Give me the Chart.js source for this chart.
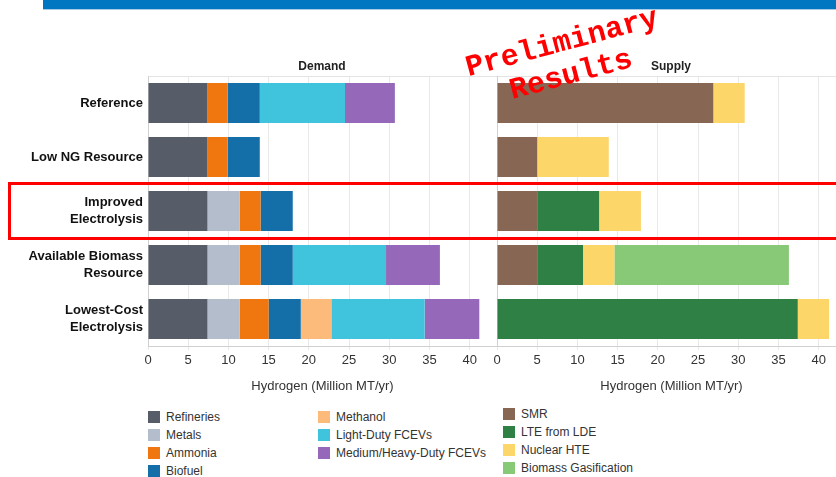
<!DOCTYPE html>
<html>
<head>
<meta charset="utf-8">
<title>Hydrogen Demand and Supply</title>
<script src="https://cdn.jsdelivr.net/npm/chart.js@4"></script>
<style>
    html, body {
        margin: 0;
        padding: 0;
        width: 836px;
        height: 477px;
        overflow: hidden;
        background: #fff;
        font-family: "Liberation Sans", Arial, sans-serif;
    }
    .top-band {
        position: absolute;
        left: 43px;
        top: 0;
        width: 793px;
        height: 9px;
        background: #0077c0;
        border-bottom: 1px solid #a9cbe6;
    }
    .panel {
        position: absolute;
        top: 0;
        height: 398px;
    }
    .panel-title {
        position: absolute;
        top: 59px;
        font-size: 12px;
        font-weight: bold;
        color: #222;
        transform: translateX(-50%);
        white-space: nowrap;
    }
    .highlight {
        position: absolute;
        left: 8px;
        top: 182px;
        width: 840px;
        height: 52px;
        border: 3px solid #ff0000;
        z-index: 5;
    }
    .stamp {
        position: absolute;
        font-family: "Liberation Mono", "Courier New", monospace;
        font-weight: bold;
        font-size: 30px;
        color: #ff0000;
        white-space: nowrap;
        transform: translate(-50%, -50%) rotate(-15deg);
        z-index: 6;
    }
    .legend {
        position: absolute;
        font-size: 12px;
        color: #333;
    }
    .legend-item {
        position: absolute;
        white-space: nowrap;
        height: 18px;
        line-height: 18px;
    }
    .legend-item span.box {
        position: absolute;
        left: 0;
        top: 3px;
        width: 12px;
        height: 12px;
    }
    .legend-item span.text {
        position: absolute;
        left: 18px;
        top: 0;
    }
</style>
</head>
<body>
<div class="top-band"></div>

<div class="panel" style="left:0; width:497px;"><canvas id="demandChart"></canvas></div>
<div class="panel" style="left:489px; width:357px;"><canvas id="supplyChart"></canvas></div>

<div class="panel-title" style="left:322px;">Demand</div>
<div class="panel-title" style="left:671px;">Supply</div>

<div class="highlight"></div>

<div class="stamp" style="left:562px; top:43px;">Preliminary</div>
<div class="stamp" style="left:571px; top:75px;">Results</div>

<div id="legendDemand" class="legend"></div>
<div id="legendSupply" class="legend"></div>

<script>
(function() {
    'use strict';

    // ===================================
    // Data
    // ===================================

    const scenarios = [
        'Reference',
        'Low NG Resource',
        ['Improved', 'Electrolysis'],
        ['Available Biomass', 'Resource'],
        ['Lowest-Cost', 'Electrolysis']
    ];

    // Demand by end use (Million MT/yr)
    const refineries = [7.4, 7.4, 7.4, 7.4, 7.4];
    const metals     = [0, 0, 4.0, 4.0, 4.0];
    const ammonia    = [2.5, 2.5, 2.6, 2.6, 3.6];
    const biofuel    = [4.0, 4.0, 4.0, 4.0, 4.0];
    const methanol   = [0, 0, 0, 0, 3.8];
    const lightDuty  = [10.6, 0, 0, 11.6, 11.6];
    const heavyDuty  = [6.2, 0, 0, 6.7, 6.8];

    // Supply by production route (Million MT/yr)
    const smr        = [26.9, 5.0, 5.0, 5.0, 0];
    const lteFromLde = [0, 0, 7.7, 5.7, 37.4];
    const nuclearHte = [3.9, 8.9, 5.2, 3.9, 3.9];
    const biomassGas = [0, 0, 0, 21.7, 0];

    const xTicks = [0, 5, 10, 15, 20, 25, 30, 35, 40];
    const xMax = 43.4;
    const axisTitle = 'Hydrogen (Million MT/yr)';

    const demandSeries = [
        { label: 'Refineries', data: refineries, color: '#565d68' },
        { label: 'Metals', data: metals, color: '#b4bdcb' },
        { label: 'Ammonia', data: ammonia, color: '#f0770f' },
        { label: 'Biofuel', data: biofuel, color: '#146fa8' },
        { label: 'Methanol', data: methanol, color: '#fdbb7b' },
        { label: 'Light-Duty FCEVs', data: lightDuty, color: '#40c4de' },
        { label: 'Medium/Heavy-Duty FCEVs', data: heavyDuty, color: '#9568ba' }
    ];

    const supplySeries = [
        { label: 'SMR', data: smr, color: '#876753' },
        { label: 'LTE from LDE', data: lteFromLde, color: '#2f8044' },
        { label: 'Nuclear HTE', data: nuclearHte, color: '#fdd66a' },
        { label: 'Biomass Gasification', data: biomassGas, color: '#87c977' }
    ];

    // ===================================
    // Chart helpers
    // ===================================

    const FONT = '"Liberation Sans", Arial, sans-serif';
    const PLOT_TOP = 76;
    const PLOT_BOTTOM = 346;
    const PANEL_HEIGHT = 398;

    function buildDatasets(series) {
        return series.map(s => ({
            label: s.label,
            data: s.data,
            backgroundColor: s.color,
            borderWidth: 0,
            categoryPercentage: 1,
            barPercentage: 0.74
        }));
    }

    function buildChart(canvas, series, opts) {
        return new Chart(canvas, {
            type: 'bar',
            data: {
                labels: scenarios,
                datasets: buildDatasets(series)
            },
            options: {
                indexAxis: 'y',
                responsive: true,
                maintainAspectRatio: false,
                animation: false,
                layout: {
                    padding: { top: PLOT_TOP, left: opts.padLeft, right: 0, bottom: 0 }
                },
                plugins: {
                    legend: { display: false },
                    tooltip: { enabled: false }
                },
                scales: {
                    x: {
                        stacked: true,
                        min: 0,
                        max: xMax,
                        afterFit: function(scale) {
                            scale.height = PANEL_HEIGHT - PLOT_BOTTOM;
                        },
                        afterBuildTicks: function(scale) {
                            scale.ticks = xTicks.map(v => ({ value: v }));
                        },
                        ticks: {
                            font: { family: FONT, size: 13 },
                            color: '#333',
                            padding: 3,
                            maxRotation: 0
                        },
                        grid: {
                            color: '#e9e9e9',
                            tickLength: 4
                        },
                        border: { color: '#d0d0d0' },
                        title: {
                            display: true,
                            text: axisTitle,
                            font: { family: FONT, size: 13 },
                            color: '#333',
                            padding: { top: 4, bottom: 4 }
                        }
                    },
                    y: {
                        stacked: true,
                        afterFit: function(scale) {
                            scale.width = opts.yWidth;
                        },
                        ticks: {
                            display: opts.showLabels,
                            font: { family: FONT, size: 13, weight: 'bold', lineHeight: 1.25 },
                            color: '#111',
                            padding: 5
                        },
                        grid: {
                            drawTicks: false,
                            color: ctx => ctx.index === 0 ? '#e4e4e4' : 'rgba(0,0,0,0)'
                        },
                        border: { color: '#d0d0d0' }
                    }
                }
            }
        });
    }

    function buildLegend(el, series, columns) {
        columns.forEach(col => {
            col.items.forEach((idx, row) => {
                const s = series[idx];
                const item = document.createElement('div');
                item.className = 'legend-item';
                item.style.left = col.x + 'px';
                item.style.top = (col.y + row * 18) + 'px';
                item.innerHTML = '<span class="box" style="background:' + s.color + '"></span>' +
                    '<span class="text">' + s.label + '</span>';
                el.appendChild(item);
            });
        });
    }

    // ===================================
    // Charts
    // ===================================

    buildChart(document.getElementById('demandChart'), demandSeries, {
        padLeft: 0,
        yWidth: 148,
        showLabels: true
    });

    buildChart(document.getElementById('supplyChart'), supplySeries, {
        padLeft: 8,
        yWidth: 0,
        showLabels: false
    });

    // ===================================
    // Legends
    // ===================================

    buildLegend(document.getElementById('legendDemand'), demandSeries, [
        { x: 148, y: 408, items: [0, 1, 2, 3] },
        { x: 318, y: 408, items: [4, 5, 6] }
    ]);

    buildLegend(document.getElementById('legendSupply'), supplySeries, [
        { x: 503, y: 405, items: [0, 1, 2, 3] }
    ]);

})();
</script>
</body>
</html>
